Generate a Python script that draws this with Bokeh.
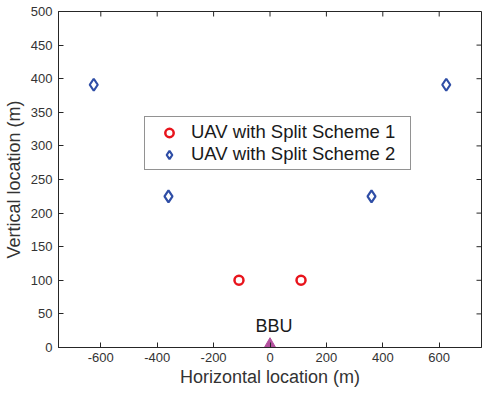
import math
from bokeh.plotting import figure
from bokeh.models import Range1d, FixedTicker, Legend, LegendItem, Label
from bokeh.embed import file_html
from bokeh.resources import INLINE

s1_x = [-110, 110]
s1_y = [100, 100]
s2_x = [-625, -360, 360, 625]
s2_y = [391, 225, 225, 391]
bbu_x = [0]
bbu_y = [0]
x_ticks = [-600, -400, -200, 0, 200, 400, 600]
y_ticks = [0, 50, 100, 150, 200, 250, 300, 350, 400, 450, 500]
x_min, x_max = -750, 750
y_min, y_max = 0, 500

FONT = "Liberation Sans"
GRAY = "#262626"
TXT = "#333333"

p = figure(width=482, height=395, output_backend="svg", toolbar_location=None,
           x_range=Range1d(x_min, x_max), y_range=Range1d(y_min, y_max),
           min_border_left=58, min_border_right=1, min_border_top=11, min_border_bottom=48)
p.xgrid.visible = False
p.ygrid.visible = False
p.outline_line_color = GRAY
p.outline_line_width = 1
p.background_fill_color = "white"

for ax in [p.xaxis[0], p.yaxis[0]]:
    ax.major_tick_in = 5
    ax.major_tick_out = 0
    ax.minor_tick_in = 0
    ax.minor_tick_out = 0
    ax.axis_line_color = GRAY
    ax.major_tick_line_color = GRAY
    ax.major_label_text_font = FONT
    ax.major_label_text_font_size = "13px"
    ax.major_label_text_color = TXT
    ax.axis_label_text_font = FONT
    ax.axis_label_text_font_size = "18px"
    ax.axis_label_text_font_style = "normal"
    ax.axis_label_text_color = TXT
p.xaxis[0].ticker = FixedTicker(ticks=x_ticks)
p.yaxis[0].ticker = FixedTicker(ticks=y_ticks)
p.xaxis[0].major_label_overrides = {t: str(t) for t in x_ticks}
p.xaxis[0].axis_label = "Horizontal location (m)"
p.yaxis[0].axis_label = "Vertical location (m)"
p.xaxis[0].axis_label_standoff = 2
p.yaxis[0].axis_label_standoff = 4
p.xaxis[0].major_label_standoff = 5
p.yaxis[0].major_label_standoff = 6

# mirrored inward ticks on top and right frame edges
p.ray(x=x_ticks, y=[y_max] * len(x_ticks), length=5, length_units="screen",
      angle=-math.pi / 2, line_color=GRAY, line_width=1)
p.ray(x=[x_max] * len(y_ticks), y=y_ticks, length=5, length_units="screen",
      angle=math.pi, line_color=GRAY, line_width=1)

r1 = p.scatter(s1_x, s1_y, marker="circle", size=9, fill_color=None,
               line_color="#e8141c", line_width=2.5)
r2 = p.scatter(s2_x, s2_y, marker="diamond", size=12, fill_color=None,
               line_color="#2f4ea6", line_width=2.2)
p.scatter(bbu_x, bbu_y, marker="triangle", size=17, fill_color="#b3519e",
          line_color="#b3519e")
p.add_layout(Label(x=bbu_x[0], y=bbu_y[0], text="BBU", x_offset=4, y_offset=12,
                   text_align="center", text_font=FONT, text_font_size="18px",
                   text_color="#1a1a1a"))

legend = Legend(items=[LegendItem(label="UAV with Split Scheme 1", renderers=[r1]),
                       LegendItem(label="UAV with Split Scheme 2", renderers=[r2])],
                location=(86, 177))
legend.label_text_font = FONT
legend.label_text_font_size = "18.5px"
legend.label_text_color = "#1a1a1a"
legend.border_line_color = GRAY
legend.border_line_width = 1
legend.padding = 4
legend.spacing = 0
legend.glyph_width = 40
legend.glyph_height = 21
legend.label_height = 21
legend.label_width = 215
legend.margin = 0
legend.label_standoff = 2
p.add_layout(legend, "center")

open("out.html", "w").write(file_html(p, INLINE))
